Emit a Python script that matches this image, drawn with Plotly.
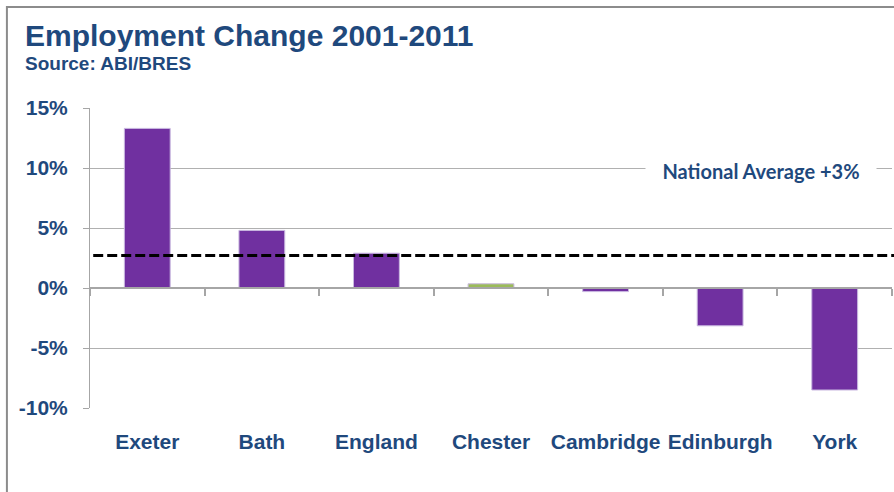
import plotly.graph_objects as go

categories = ["Exeter", "Bath", "England", "Chester", "Cambridge", "Edinburgh", "York"]
values = [13.3, 4.8, 2.9, 0.35, -0.3, -3.15, -8.5]
bar_colors = ["#7030A0", "#7030A0", "#7030A0", "#9BBB59", "#7030A0", "#7030A0", "#7030A0"]
national_avg = 2.7
avg_label = "National Average +3%"
y_ticks = [-10, -5, 0, 5, 10, 15]
y_ticktext = ["-10%", "-5%", "0%", "5%", "10%", "15%"]

BLUE = "#1F497D"
GRID = "#B0B0B0"
AXIS = "#A6A6A6"
FONT = "Liberation Sans"

fig = go.Figure()
fig.add_trace(go.Bar(
    x=categories, y=values, width=0.4,
    marker=dict(color=bar_colors, line=dict(color="#C9B8E0", width=1)),
    hoverinfo="x+y", showlegend=False,
))
# invisible helper trace for the zero-line axis with boundary ticks
fig.add_trace(go.Scatter(
    x=categories, y=[0] * len(categories), xaxis="x2", mode="markers",
    marker=dict(opacity=0), hoverinfo="skip", showlegend=False,
))

fig.update_layout(
    width=894, height=492,
    margin=dict(l=90, r=2, t=108, b=84),
    paper_bgcolor="white", plot_bgcolor="white",
    xaxis=dict(
        type="category", showline=False, ticks="", showgrid=False,
        tickfont=dict(family=FONT, size=21, color=BLUE, weight="bold"),
        ticklabelstandoff=19, range=[-0.5, 6.5],
    ),
    xaxis2=dict(
        type="category", overlaying="x", anchor="free", position=0.4,
        side="bottom", matches="x", showline=True, linecolor=AXIS, linewidth=2,
        ticks="outside", ticklen=7, tickcolor=AXIS, tickwidth=2,
        tickson="boundaries", showticklabels=False, showgrid=False,
    ),
    yaxis=dict(
        range=[-10, 15], tickvals=y_ticks, ticktext=y_ticktext,
        showgrid=True, gridcolor=GRID, gridwidth=1,
        zeroline=False, showline=True, linecolor=AXIS, linewidth=1,
        ticks="outside", ticklen=6, tickcolor=AXIS,
        tickfont=dict(family=FONT, size=21, color=BLUE, weight="bold"),
        ticklabelstandoff=11,
    ),
    shapes=[
        dict(type="line", xref="paper", yref="y", x0=0.004, x1=1.01,
             y0=national_avg, y1=national_avg,
             line=dict(color="black", width=3, dash="10px,4px")),
        dict(type="rect", xref="paper", yref="paper", x0=-0.1036, x1=1.05,
             y0=-0.5, y1=1.3367, line=dict(color="#8C8C8C", width=2),
             fillcolor="rgba(0,0,0,0)", layer="above"),
    ],
    annotations=[
        dict(text="Employment Change 2001-2011", xref="paper", yref="paper",
             x=-0.0836, y=1.243, xanchor="left", yanchor="middle", showarrow=False,
             font=dict(family=FONT, size=30, color=BLUE, weight="bold")),
        dict(text="Source: ABI/BRES", xref="paper", yref="paper",
             x=-0.0836, y=1.1467, xanchor="left", yanchor="middle", showarrow=False,
             font=dict(family=FONT, size=19, color=BLUE, weight="bold")),
        dict(text=avg_label, xref="paper", yref="y", x=0.837, y=9.75,
             xanchor="center", yanchor="middle", showarrow=False,
             bgcolor="white", width=228, height=24,
             font=dict(family="Lato", size=20, color=BLUE, weight="bold")),
    ],
)

fig.write_html(
    "out.html",
    config={"displayModeBar": False},
    post_script="document.body.style.margin='0px';document.body.style.overflow='hidden';",
)
